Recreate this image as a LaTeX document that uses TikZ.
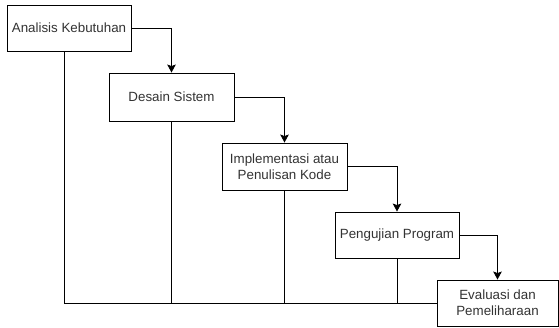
\documentclass[tikz,border=0pt]{standalone}
\usepackage{fontspec}
\setmainfont{Liberation Sans}
\usetikzlibrary{arrows.meta}
\begin{document}
\begin{tikzpicture}[x=1bp,y=-1bp,
  stage/.style={draw=black, line width=0.9bp, fill=white, align=center,
    text=black!80, inner sep=0pt, font=\fontsize{13.4}{16}\selectfont},
  flow/.style={draw=black, line width=0.9bp, -{Stealth[length=8bp,width=8.5bp,inset=1.5bp]}},
  link/.style={draw=black, line width=0.9bp}]
  \useasboundingbox (0,0) rectangle (559,327);

  % stages of the waterfall
  \node[stage, minimum width=124bp, minimum height=46bp] (s1) at (69,28) {Analisis Kebutuhan};
  \node[stage, minimum width=125bp, minimum height=48bp] (s2) at (171.5,97) {Desain Sistem};
  \node[stage, minimum width=125bp, minimum height=47bp] (s3) at (284.5,166.5) {Implementasi atau\\Penulisan Kode};
  \node[stage, minimum width=124bp, minimum height=46bp] (s4) at (397,235) {Pengujian Program};
  \node[stage, minimum width=121bp, minimum height=46bp] (s5) at (497.5,303) {Evaluasi dan\\Pemeliharaan};

  % forward flow between stages
  \draw[flow] (s1.east) -| (s2.north);
  \draw[flow] (s2.east) -| (s3.north);
  \draw[flow] (s3.east) -| (s4.north);
  \draw[flow] (s4.east) -| (s5.north);

  % feedback lines collected along the bottom
  \coordinate (f1) at (64,51);
  \draw[link] (f1) |- (s5.west);
  \draw[link] (s2.south) -- (s2.south |- s5.west);
  \draw[link] (s3.south) -- (s3.south |- s5.west);
  \draw[link] (s4.south) -- (s4.south |- s5.west);
\end{tikzpicture}
\end{document}
